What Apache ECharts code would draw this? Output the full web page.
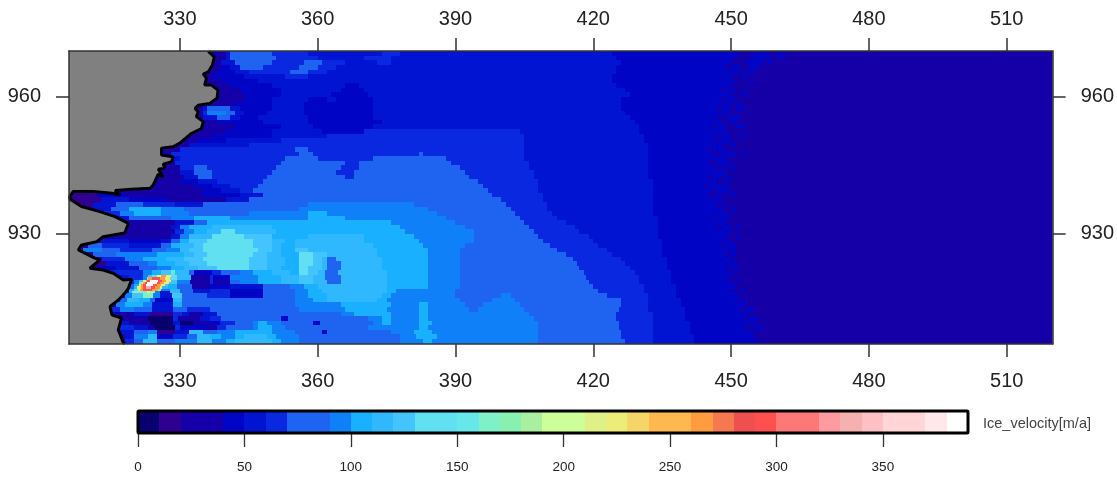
<!DOCTYPE html>
<html><head><meta charset="utf-8">
<style>html,body{margin:0;padding:0;background:#fff;overflow:hidden}#c{width:1117px;height:478px;filter:blur(0.55px)}</style>
<script src="https://cdn.jsdelivr.net/npm/echarts@6/dist/echarts.min.js"></script>
</head><body><div id="c"></div>
<script>
const lonTicks=[330,360,390,420,450,480,510];
const latTicks=[930,960];
const legendTicks=[0,50,100,150,200,250,300,350];
const legendName='Ice_velocity[m/a]';
const classColors=['#08006e','#2f0090','#1500a8','#1500a8','#0004c4','#0014d2','#0a28e0','#1e64f0','#1e64f0','#0f80f8','#18b0ff','#30b8ff','#44c4ff','#60e0f0','#60e0f0','#66e8e8','#80f0c8','#88f0b0','#a8f0a0','#ccff99','#ccff99','#e0f088','#ecec78','#f5d468','#ffb850','#ffb850','#ff9c40','#f57850','#ee5050','#ff5050','#ff7878','#ff7878','#ff9aa0','#f5b0b0','#ffc0c4','#ffd5d8','#ffd5d8','#ffe8ea','#ffffff'];
const rowLats=[970,969,968,967,966,965,964,963,962,961,960,959,958,957,956,955,954,953,952,951,950,949,948,947,946,945,944,943,942,941,940,939,938,937,936,935,934,933,932,931,930,929,928,927,926,925,924,923,922,921,920.5,920,919.5,919,918.5,918,917.5,917,916,915,914,913,912,911,910,909,908,907,906];
const rowRuns=[
[306,25,340,55,341,75,350,65,358,55,374,65,378,55,424,45,452,25,455,45,458,25,460,45,462,25],
[306,25,340,55,341,75,351,65,360,55,370,65,376,55,425,45,451,25,454,45,459,25,460,45,461,25],
[306,25,339,55,342,75,350,65,357,75,361,65,366,55,373,65,376,55,426,45,450,25,453,45,457,25,458,45,459,25],
[306,25,339,45,341,55,343,75,348,65,356,75,360,65,364,55,425,45,449,25,450,45,452,25,454,45,456,25],
[306,25,338,45,342,55,345,65,354,75,358,65,362,55,425,45,452,25,453,45,455,25],
[306,25,337,45,344,55,353,65,358,55,424,45,450,25,452,45,453,25],
[306,25,339,45,347,55,424,45,451,25,454,45,455,25],
[306,25,341,45,350,55,366,45,369,55,425,45,450,25],
[306,25,343,45,352,55,365,45,370,55,427,45,448,25,449,45,451,25,453,45,454,25],
[306,25,344,45,352,55,363,45,371,55,428,45,450,25,452,45,453,25],
[306,25,344,45,350,55,358,45,362,55,364,45,372,55,426,45,448,25,449,45,451,25],
[306,25,342,45,350,55,357,45,372,55,426,45,450,25,451,45,452,25],
[306,25,335,55,336,75,341,55,343,45,350,55,357,45,372,55,426,45,447,25,448,45,450,25,451,45,453,25],
[306,25,335,65,336,95,340,75,342,55,344,45,349,55,357,45,372,55,427,45,449,25],
[306,25,335,55,338,75,341,55,343,45,347,55,358,45,372,55,428,45,447,25,449,45,452,25],
[306,25,338,45,348,55,358,45,374,55,429,45,448,25,450,45,451,25],
[306,25,342,45,352,55,359,45,372,55,430,45,446,25,447,45,449,25,451,45,453,25],
[306,25,340,45,350,55,361,45,370,65,404,55,430,45,449,25],
[306,25,337,45,350,55,362,65,405,55,431,45,447,25,448,45,450,25,452,45,453,25],
[306,25,334,45,340,55,352,65,405,55,431,45,446,25,447,45,450,25],
[306,25,332,55,345,65,405,55,432,45,448,25,450,45,451,25],
[306,25,330,65,355,75,358,65,405,55,432,45,445,25,446,45,449,25],
[306,25,328,65,356,75,359,65,382,75,383,65,405,55,432,45,446,25,448,45,451,25,452,45,453,25],
[306,25,327,55,330,65,353,75,360,65,372,75,388,65,405,55,432,45,449,25],
[306,25,329,65,352,75,366,65,369,75,389,65,406,55,432,45,445,25,447,45,450,25],
[306,25,330,65,333,75,336,65,351,75,365,65,369,75,391,65,406,55,432,45,447,25,448,45,449,25,450,45,451,25],
[306,25,330,55,333,75,337,65,350,75,364,65,368,75,392,65,407,55,432,45,449,25],
[306,25,331,55,334,75,337,65,349,75,366,65,368,75,393,65,407,55,432,45,445,25,446,45,448,25,449,45,450,25],
[306,25,330,45,334,55,338,65,348,75,395,65,408,55,433,45,447,25,449,45,450,25],
[306,25,333,45,337,55,341,65,347,75,396,65,408,55,433,45,444,25,445,45,449,25],
[306,25,335,45,339,55,343,65,346,75,397,65,408,55,433,45,446,25,447,45,450,25],
[306,15,312,45,318,25,335,45,343,55,348,75,398,65,409,55,433,45,445,25,447,45,448,25,450,45,451,25],
[306,15,313,55,319,45,327,25,340,55,345,75,400,65,409,55,433,45,448,25],
[306,15,311,55,316,75,322,65,329,55,335,75,358,95,381,75,401,65,410,55,433,45,447,25,448,45,449,25],
[306,15,311,55,315,75,319,105,326,95,331,75,356,95,384,75,402,65,410,55,433,45,448,25,450,45,451,25],
[306,15,312,65,317,95,320,105,326,95,332,75,345,95,358,105,362,95,386,75,403,65,411,55,433,45,449,25],
[306,15,316,55,319,75,328,95,333,105,341,95,358,105,366,95,388,75,404,65,412,55,434,45,446,25,447,45,450,25],
[306,15,319,25,329,55,333,75,336,105,376,95,390,75,405,65,414,55,434,45,449,25],
[306,15,319,25,328,55,330,95,332,105,337,115,350,105,378,95,392,75,406,65,416,55,434,45,447,25,448,45,450,25,451,45,452,25],
[306,15,318,25,329,65,331,95,333,105,336,115,339,135,342,115,351,105,379,95,394,75,407,65,417,55,434,45,450,25],
[306,15,314,25,328,55,330,95,332,115,337,135,344,125,350,105,358,115,370,105,381,95,394,75,408,65,419,55,434,45,449,25,451,45,452,25],
[306,15,313,55,319,45,326,55,328,75,330,105,332,125,336,135,346,125,350,115,353,105,355,115,370,105,382,95,394,75,409,65,420,55,435,45,450,25],
[306,15,310,75,313,65,319,55,326,75,328,105,330,115,333,125,335,135,346,125,350,115,352,105,355,115,372,105,383,95,392,75,410.5,65,421,55,435,45,448,25,449,45,451,25],
[306,15,309,95,313,75,317,65,324,75,327,95,330,115,332,125,335,135,347,125,350,115,352,105,355,125,358,115,373,105,384,95,391,75,412,65,423,55,435,45,451,25],
[306,15,311,75,316,95,325,105,331,115,333,125,336,135,346,125,349,115,352,105,356,135,359,125,362,115,373,105,384,95,391,75,414,65,424,55,435,45,449,25,450,45,451,25],
[306,15,313,65,318,95,322,105,327,115,331,125,335,135,345,125,349,115,353,105,356,135,359,125,361,115,362,75,364,115,374,105,384,95,391,75,415.5,65,426,55,436,45,450,25],
[306,15,314,55,319,75,323,95,325,105,329,115,332,125,336,135,345,125,349,115,353,105,356,135,359,125,361,115,362,75,365,115,374,105,384,95,391,75,416.5,65,427,55,436,45,451,25],
[306,15,312,45,316,55,321,75,325,95,328,105,331,115,334,125,338,135,345,125,349,115,352,105,356,135,358,125,361,115,362,75,365,115,374,105,384,95,391,75,417,65,428,55,436,45,449,25,450,45,452,25],
[306,15,314,65,322,95,324,105,326,125,328,155,329,115,332,75,333,45,337,65,339,75,343,95,346,105,350,115,354,105,356,135,358,125,360,115,361.5,75,364.5,115,375,105,384,95,391,75,418,65,429,55,437,45,450,25],
[306,15,316,55,319,65,322,95,323,125,324,135,325,195,326,265,327,225,328,135,329.3,115,332.5,25,336.5,65,337.2,45,341,95,347,105,352,115,356,125,359,115,361.5,75,365,115,375,105,384,95,391,75,418.5,65,430,55,437,45,451,25],
[306,15,317,55,319,65,322,95,322.8,165,323,265,323.9,295,325.7,265,326.7,225,327.8,135,329.3,115,332.5,25,336.5,65,337.2,45,341,95,347,105,352,115,356,125,359,115,361.5,75,365,115,375,105,384,95,391,75,418.5,65,430,55,437,45,449,25,451,45,452,25],
[306,15,318,65,320,95,321,125,322,195,322.6,265,322.8,295,323.5,385,325.2,295,326.1,265,326.9,225,328.1,125,329.3,95,332.2,25,336.5,65,337.2,25,341,75,343,95,347,105,352,115,356,125,359,115,362,75,365,115,375,105,384,95,391,75,419,65,430,55,437,45,450,25],
[306,15,318,65,320,95,321,165,321.7,225,322,265,322.4,295,322.8,385,325,295,325.7,265,326.5,225,327.6,125,329.3,95,332.2,25,336.5,65,337.2,25,341,75,343,95,347,105,352,115,356,125,359,115,362,75,365,115,375,105,384,95,391,75,419,65,430,55,437,45,450,25],
[306,15,319,75,320,105,321,225,321.5,265,322,295,322.6,385,324.1,295,325,265,326,225,326.7,125,327.4,105,329.3,75,332.6,25,336.5,45,341,55,348,75,354,95,357,105,360,115,375,105,384,95,391,75,420,65,431,55,438,45,451,25],
[306,15,319,75,320,115,320.7,225,321.5,265,322,295,322.6,335,323.7,295,324.6,265,325.7,225,326.1,115,327.4,105,329.3,75,332.6,25,336.5,45,341,55,348,75,354,95,357,105,360,115,375,105,384,95,391,75,420,65,431,55,438,45,451,25],
[306,15,319,105,320,135,320.9,225,321.3,265,322,295,324,265,325.2,185,325.9,95,327.8,115,330,75,332.8,55,336.5,65,341,45,348,75,355,95,358,105,361,115,375,105,377,95,390,75,421,65,431,55,438,45,450,25,452,45,453,25],
[306,15,319,105,319.6,165,322.8,215,323.5,185,324.5,95,325.7,55,327.8,115,330,75,332.8,55,336.5,65,341,45,348,75,355,95,358,105,361,115,375,105,377,95,390,75,421,65,431,55,438,45,451,25],
[306,15,318,95,319.6,125,322,165,324.1,95,325.7,55,328.3,125,330.4,75,336,65,341,45,348,75,355,95,358,105,362,115,374,105,376,95,390,75,400,95,402,75,423,65,432,55,438,45,452,25],
[306,15,317,75,318.5,115,321,105,323.5,75,324.6,45,328.5,115,330.4,75,355,95,359,105,362,115,373,105,375,95,391,75,398,95,403,75,426,65,432,55,439,45,451,25,452,45,453,25],
[306,15,316,95,318,105,322,95,324,55,328.5,105,330.4,75,355,95,365,105,376,95,382,105,384,95,392,75,396,95,404,75,426,65,432,55,439,45,453,25],
[306,15,315,65,317,95,320,75,324,55,328.5,75,331.5,65,336.5,75,356,95,366,105,375,95,382,105,384,95,393,75,395,95,405,75,425.5,65,432,55,440,45,452,25,453,45,455,25],
[306,15,315,45,317,25,320,55,323.5,15,328.5,65,330.4,55,332,25,335,55,338,75,365,95,368,105,376,95,382,105,384,95,406,75,425,65,433,55,440,45,454,25],
[306,15,316,25,323,5,328.5,65,329.6,25,334.3,55,336.5,65,339,75,352,45,353.5,75,371,95,374,105,376,95,382,105,384,95,407,75,425,65,433,55,440,45,453,25,454,45,456,25],
[306,15,317,55,319,25,323.5,5,328.5,55,330,5,332.8,25,336,45,338.7,65,342,75,346,95,347,105,349,95,352,75,359,45,360.5,75,372,95,374,105,376,95,382,105,385,95,408,75,425.5,65,433,55,441,45,455,25],
[306,15,317,65,320,55,323,25,324.5,5,329,65,330,45,336,25,338,65,340,75,346,95,347,105,350,95,353,75,371,95,382,105,384,95,408,75,425.5,65,433,55,441,45,453,25,455,45,457,25],
[306,15,317,55,320,75,323,95,325,15,329,55,332,115,335,75,338,95,342,105,350,95,355,75,361,45,362,75,376,95,381,105,385,95,408,75,426,65,433,55,441,45,455,25],
[306,15,318,55,320,95,323,115,325,45,328.5,65,331.5,75,333.7,115,336.5,105,339,95,342,105,344,115,349,105,351,95,356,75,378,95,381.5,105,386,95,408,75,426,65,433,55,442,45,455,25],
[306,15,318,65,320,75,322,115,325,75,329,95,333.7,115,337,95,340,105,342,115,350,105,352,95,356,75,378,95,383,105,385,95,408,75,427,65,433,55,442,45,456,25],
[306,15,318,75,322,115,325,95,333,115,337,105,340,115,351,105,353,95,356,75,380,95,408,75,427,65,433,55,442,45,456,25]
];
const coastLon=[336.2,337.5,337.1,336.2,335.1,335.8,335.4,336.9,338.3,338.1,336.5,334,333.3,334,333.6,335.1,334.7,332.5,330,328.5,326,326,328.5,328.2,326.4,326.7,325.3,326.4,325.3,324.2,323.5,319.5,315.9,317,315.2,311.2,306.8,306,306.1,308.6,312.6,315.9,318.8,318,313.3,311.9,308.6,307.9,311.5,312.6,310.4,313.3,315.5,317.7,319.5,318.8,318,316.6,314.8,315.2,317.3,316.6,317.7,318];
const coastLat=[970,968.8,967,965.5,965,964.1,962.6,962.6,961.5,959.7,958.6,958.2,957.5,956.8,955.7,954.6,953.1,952,949.9,949.1,948.8,947.3,946.9,945.8,945.3,944.4,944.2,942.5,943.1,940.7,940,939.8,939.5,938.5,938.9,939.3,939.3,938.2,937.6,936,934.9,933.8,932.3,930.2,929.4,928.3,927.6,926.5,924.7,924.3,922.5,922.1,921.4,919.9,920.1,918.1,917,915.5,914.1,912.3,911.6,909,906.2,905.9];

const X0=305.87,X1=520,Y0=905.9,Y1=970.07;
const cells=[];
rowRuns.forEach((r,i)=>{
  const bottom=i+1<rowLats.length?rowLats[i+1]:rowLats[i]-1;
  for(let k=0;k<r.length;k+=2){
    const end=k+2<r.length?r[k+2]:X1;
    cells.push([r[k],end,rowLats[i],bottom,r[k+1]]);
  }
});
const colorOf=v=>classColors[Math.floor(v/10)];
function renderCell(p,api){
  const a=api.coord([api.value(0),api.value(2)]),b=api.coord([api.value(1),api.value(3)]);
  const s=p.coordSys;
  const x0=Math.round(a[0]),y0=Math.round(a[1]),x1=Math.round(b[0]),y1=Math.round(b[1]);
  const rect=echarts.graphic.clipRectByRect({x:x0,y:y0,width:x1-x0,height:y1-y0},{x:s.x,y:s.y,width:s.width,height:s.height});
  if(!rect)return null;
  return {type:'rect',shape:rect,style:{fill:colorOf(api.value(4))}};
}
const coast=coastLon.map((x,i)=>[x,coastLat[i]]);
const land=[...coast,[X0,Y0],[X0,Y1]];
const legendCells=classColors.map((c,i)=>[i*10,i*10+10,i*10+5]);
const txt='#222';
const mainAxisX=(pos,m)=>({type:'value',gridIndex:0,position:pos,min:X0,max:X1,z:6,
  axisLine:{show:true,lineStyle:{color:'#333',width:1.5}},
  axisTick:{show:true,length:13,customValues:lonTicks,lineStyle:{color:'#333',width:1.5}},
  axisLabel:{show:true,customValues:lonTicks,margin:m,fontFamily:'Liberation Sans',fontSize:20,color:txt,formatter:v=>String(v)},
  splitLine:{show:false}});
const mainAxisY=(pos,m)=>({type:'value',gridIndex:0,position:pos,min:Y0,max:Y1,z:6,
  axisLine:{show:true,lineStyle:{color:'#333',width:1.5}},
  axisTick:{show:true,length:13,customValues:latTicks,lineStyle:{color:'#333',width:1.5}},
  axisLabel:{show:true,customValues:latTicks,margin:m,fontFamily:'Liberation Sans',fontSize:20,color:txt,formatter:v=>String(v)},
  splitLine:{show:false}});
const chart=echarts.init(document.getElementById('c'),null,{renderer:'canvas'});
chart.setOption({
  animation:false,backgroundColor:'#fff',
  title:{text:legendName,left:983,top:416,padding:0,textStyle:{fontFamily:'Liberation Sans',fontSize:14.5,fontWeight:'normal',color:'#444'}},
  grid:[{left:69,top:51,width:985,height:293},{left:138,top:411,width:830,height:22}],
  xAxis:[mainAxisX('bottom',27),mainAxisX('top',22),
    {type:'value',gridIndex:1,position:'bottom',min:0,max:390,
     axisLine:{show:false},axisTick:{show:true,length:14,customValues:legendTicks,lineStyle:{color:'#333',width:1.3}},
     axisLabel:{show:true,customValues:legendTicks,margin:27,fontFamily:'Liberation Sans',fontSize:13.5,color:txt,formatter:v=>String(v)},splitLine:{show:false}}],
  yAxis:[mainAxisY('left',28),mainAxisY('right',28),
    {type:'value',gridIndex:1,min:0,max:1,show:false}],
  series:[
    {type:'custom',xAxisIndex:0,yAxisIndex:0,z:2,silent:true,renderItem:renderCell,data:cells,encode:{x:[0,1],y:[2,3]},animation:false,progressive:0},
    {type:'custom',xAxisIndex:0,yAxisIndex:0,z:3,silent:true,data:[0],animation:false,
     renderItem(p,api){return {type:'polygon',shape:{points:land.map(q=>api.coord(q))},style:{fill:'#808080'}};}},
    {type:'line',xAxisIndex:0,yAxisIndex:0,z:4,silent:true,data:coast,showSymbol:false,symbol:'none',lineStyle:{color:'#000',width:3},animation:false},
    {type:'custom',xAxisIndex:2,yAxisIndex:2,z:2,silent:true,data:legendCells,encode:{x:[0,1]},animation:false,
     renderItem(p,api){const a=api.coord([api.value(0),1]),b=api.coord([api.value(1),0]);
       const x0=Math.round(a[0]),x1=Math.round(b[0]);
       return {type:'rect',shape:{x:x0,y:a[1],width:x1-x0,height:b[1]-a[1]},style:{fill:colorOf(api.value(2))}};}},
    {type:'custom',xAxisIndex:2,yAxisIndex:2,z:3,silent:true,data:[0],animation:false,
     renderItem(p,api){const a=api.coord([0,1]),b=api.coord([390,0]);
       return {type:'rect',shape:{x:a[0],y:a[1],width:b[0]-a[0],height:b[1]-a[1],r:1},style:{fill:'none',stroke:'#000',lineWidth:3}};}}
  ]
});
</script></body></html>
